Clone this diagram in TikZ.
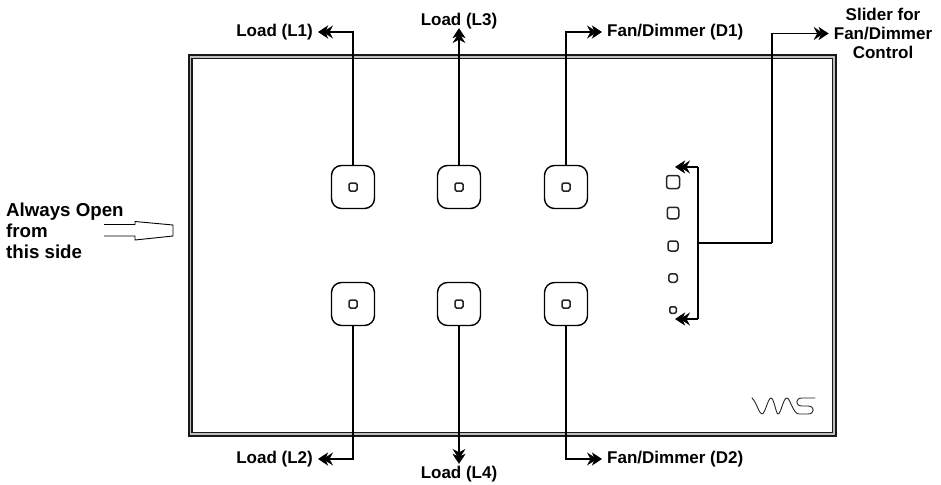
\documentclass[tikz,border=0pt]{standalone}
\usepackage{fontspec}
\setmainfont{Liberation Sans}
\usetikzlibrary{arrows.meta}
\tikzset{
  x=1pt,y=-1pt,
  btn/.style={draw=black,line width=1.4pt,rounded corners=10pt,minimum width=43pt,minimum height=43pt,inner sep=0pt,fill=white},
  led/.style={draw=black!85,line width=1.5pt,rounded corners=1.5pt,minimum width=8pt,minimum height=8pt,inner sep=0pt,fill=white},
  sld/.style={draw=black!85,line width=1.5pt,rounded corners=2.5pt,inner sep=0pt,fill=white},
  lab/.style={font=\fontsize{17}{18.7}\selectfont\bfseries,inner sep=0pt,align=center},
  conn/.style={draw=black,line width=1.3pt,-{Stealth[length=10pt,width=13pt,inset=3.5pt,sep=-5pt]Stealth[length=10pt,width=13pt,inset=2.5pt,sep=-5pt]}},
  plain/.style={draw=black,line width=1.3pt},
}
\begin{document}
\begin{tikzpicture}
\useasboundingbox (0,0) rectangle (941,484);
% frame
\draw[line width=5pt,black!90,line join=miter] (190.5,57) rectangle (834,434);
\draw[line width=1.5pt,black!25] (190.5,57) rectangle (834,434);
% buttons
\foreach \n/\x/\y in {a/353/187,b/459/187,c/566/187,d/353/304,e/459/304,f/566/304}{
  \node[btn] (\n) at (\x,\y) {};
  \node[led] (\n i) at (\x,\y) {};
}
% slider
\node[sld,minimum width=13pt,minimum height=13pt] (s1) at (673,182) {};
\node[sld,minimum width=11.5pt,minimum height=11.5pt] (s2) at (673,213) {};
\node[sld,minimum width=10pt,minimum height=10pt] (s3) at (673,246) {};
\node[sld,minimum width=8.5pt,minimum height=8.5pt] (s4) at (673,278) {};
\node[sld,minimum width=6.5pt,minimum height=6.5pt,rounded corners=1.5pt] (s5) at (673,310) {};
% labels
\node[lab,anchor=east] (l1) at (313,32) {Load (L1)};
\node[lab] (l3) at (459,21) {Load (L3)};
\node[lab,anchor=west] (d1) at (607,32) {Fan/Dimmer (D1)};
\node[lab] (sl) at (883,33.5) {Slider for\\Fan/Dimmer\\Control};
\node[lab,anchor=east] (l2) at (313,459) {Load (L2)};
\node[lab] (l4) at (459,474) {Load (L4)};
\node[lab,anchor=west] (d2) at (607,459) {Fan/Dimmer (D2)};
\node[lab,anchor=west,align=left,font=\fontsize{18.7}{21}\selectfont\bfseries] (op) at (6,231) {Always Open\\from\\this side};
% connectors
\draw[conn,shorten >=10pt] (a.north) |- (l1.east);
\draw[conn,shorten >=4pt] (b.north) -- (l3.south);
\draw[conn,shorten >=10pt] (c.north) |- (d1.west);
\draw[conn,shorten >=10pt] (d.south) |- (l2.east);
\draw[conn,shorten >=7pt] (e.south) -- (l4.north);
\draw[conn,shorten >=10pt] (f.south) |- (d2.west);
% slider bracket
\coordinate (st) at (698,167);
\coordinate (sb) at (698,319);
\coordinate (sm) at (698,243);
\coordinate (st2) at (680,167);
\coordinate (sb2) at (680,319);
\coordinate (sk) at (772,243);
\draw[conn] (st) -- (st2);
\draw[conn] (sb) -- (sb2);
\draw[plain] (st) -- (sb);
\draw[plain] (sm) -- (sk);
\draw[conn,shorten >=10pt] (sk) |- (sl.west);
% open arrow
\draw[line width=0.9pt,black] (104,224.5) -- (135,224.5) -- (135,221.5) -- (173,225) -- (173,236) -- (135,240) -- (135,236) -- (104,236);
% logo
\draw[line width=0.9pt,black!85,line cap=round,line join=round]
 (752,398) .. controls (757,403) and (759,414) .. (762,414)
 .. controls (765,414) and (768,398) .. (771,398)
 .. controls (774,398) and (776,414) .. (778,414)
 .. controls (781,414) and (783,398) .. (787,398)
 .. controls (790,398) and (793,414) .. (799,414)
 -- (808,414) .. controls (815,414) and (815,406) .. (808,406)
 -- (802,406) .. controls (795,406) and (795,398) .. (802,398) -- (815,398);
\end{tikzpicture}
\end{document}
